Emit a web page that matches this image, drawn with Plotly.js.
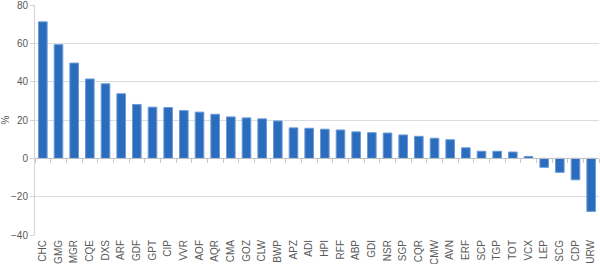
<!DOCTYPE html>
<html><head><meta charset="utf-8">
<script src="https://cdn.plot.ly/plotly-3.0.1.min.js"></script>
<style>html,body{margin:0;padding:0;background:#fff}#c{width:600px;height:264px}</style>
</head><body><div id="c"></div>
<script>
const categories = ["CHC","GMG","MGR","CQE","DXS","ARF","GDF","GPT","CIP","VVR","AOF","AQR","CMA","GOZ","CLW","BWP","APZ","ADI","HPI","RFF","ABP","GDI","NSR","SGP","CQR","CMW","AVN","ERF","SCP","TGP","TOT","VCX","LEP","SCG","CDP","URW"];
const values = [71.2,59.3,49.7,41.4,38.9,33.7,28.1,26.7,26.5,24.9,24.1,23.0,21.6,21.1,20.6,19.5,15.9,15.7,15.2,14.8,13.8,13.4,13.2,12.2,11.5,10.5,9.7,5.5,3.7,3.7,3.3,1.0,-4.7,-7.3,-11.2,-27.7];
const yTicks = [-40,-20,0,20,40,60,80];

const font = {family:"Liberation Sans, Arial, sans-serif", size:10, color:"#595959"};
const data = [{
  type:"bar", x:categories, y:values,
  marker:{color:"#2b6cbd", line:{color:"#6b9bd8", width:1}},
  hoverinfo:"skip"
},{
  type:"bar", x:categories, y:values.map(()=>null), xaxis:"x2", hoverinfo:"skip", showlegend:false
}];
const layout = {
  width:600, height:264,
  margin:{l:35, r:1, t:5, b:29},
  paper_bgcolor:"#fff", plot_bgcolor:"#fff",
  showlegend:false, bargap:0.45, font:font,
  xaxis:{type:"category", tickangle:-90, showgrid:false, zeroline:false, showline:false, ticks:"", tickfont:font, ticklabelstandoff:2},
  xaxis2:{type:"category", overlaying:"x", anchor:"free", position:1/3, matches:"x", showticklabels:false, ticks:"outside", ticklen:4, tickcolor:"#c8c8c8", tickson:"boundaries", showline:true, linecolor:"#bfbfbf", showgrid:false, zeroline:false},
  yaxis:{range:[-40,80], tickvals:yTicks, showgrid:true, gridcolor:"#d9dde2", zeroline:false, showline:true, linecolor:"#d0d4d9", ticks:"outside", ticklen:4, tickcolor:"#d0d4d9", tickfont:font, ticklabeloverflow:"allow",
    title:{text:"%", font:font, standoff:6}}
};
Plotly.newPlot("c", data, layout, {staticPlot:true, displayModeBar:false});
</script></body></html>
